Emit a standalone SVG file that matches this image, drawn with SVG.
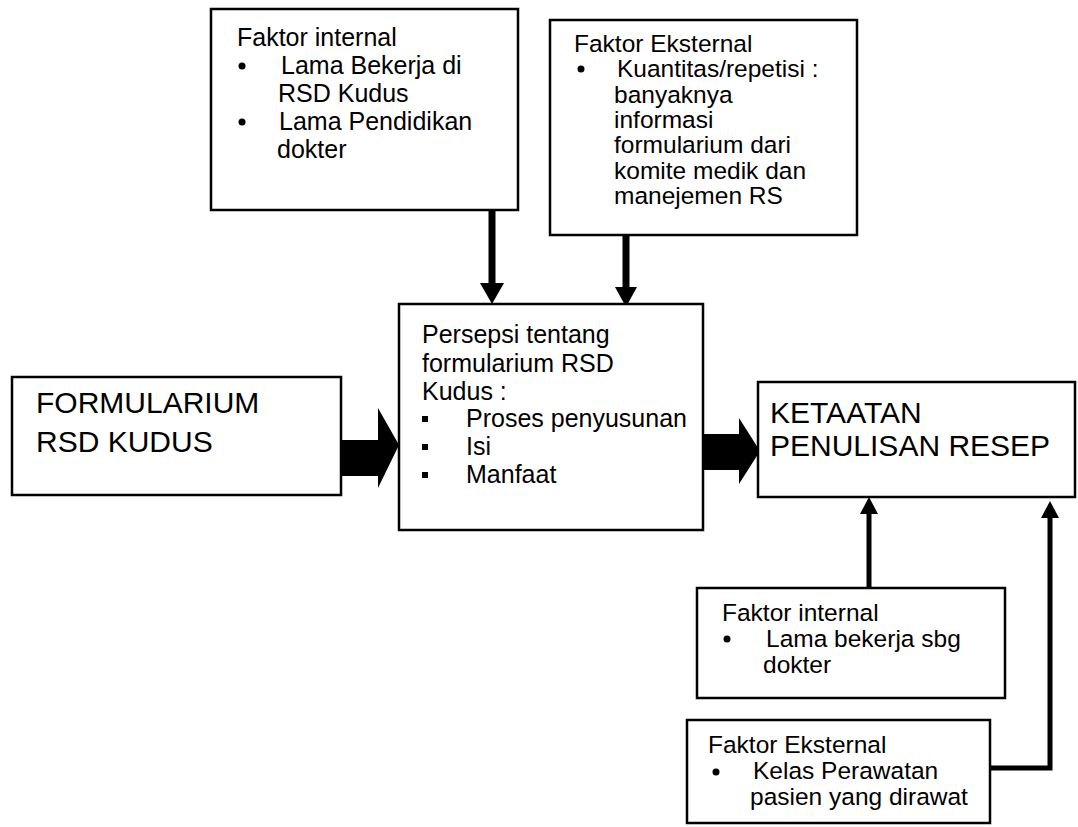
<svg xmlns="http://www.w3.org/2000/svg" width="1078" height="827" viewBox="0 0 1078 827">
<style>
.box{fill:#fff;stroke:#000;stroke-width:2.5}
.t{font-family:"Liberation Sans",Arial,sans-serif;font-size:25px;fill:#000}
.t2{font-family:"Liberation Sans",Arial,sans-serif;font-size:24.5px;fill:#000}
.big{font-family:"Liberation Sans",Arial,sans-serif;font-size:30px;fill:#000}
.ln{stroke:#000;fill:none}
.ah{fill:#000;stroke:none}
.bl{fill:#000}
</style>
<rect width="1078" height="827" fill="#fff"/>
<g id="connectors">
  <line class="ln" x1="492" y1="210" x2="492" y2="285" stroke-width="7"/>
  <polygon class="ah" points="480,283 504,283 492,304"/>
  <line class="ln" x1="626" y1="212" x2="626" y2="289" stroke-width="7"/>
  <polygon class="ah" points="615,287 637,287 626,307"/>
  <polygon class="ah" points="327,440 378,440 378,408 399,445 378,488 378,476 327,476"/>
  <polygon class="ah" points="703,434 739,434 739,418 760,451 739,484 739,470 703,470"/>
  <line class="ln" x1="869" y1="588" x2="869" y2="512" stroke-width="5"/>
  <polygon class="ah" points="860,514 878,514 869,497"/>
  <polyline class="ln" points="990,768 1050,768 1050,516" stroke-width="5"/>
  <polygon class="ah" points="1041,518 1059,518 1050,501"/>
</g>
<g id="faktor-internal-top">
  <rect class="box" x="211" y="9" width="307" height="201"/>
  <text class="t" x="237" y="46">Faktor internal</text>
  <circle class="bl" cx="242" cy="66" r="3.5"/>
  <text class="t" x="281" y="74">Lama Bekerja di</text>
  <text class="t" x="278" y="102">RSD Kudus</text>
  <circle class="bl" cx="242" cy="122" r="3.5"/>
  <text class="t" x="279" y="130">Lama Pendidikan</text>
  <text class="t" x="277" y="158">dokter</text>
</g>
<g id="faktor-eksternal-top">
  <rect class="box" x="550" y="20" width="307" height="215"/>
  <text class="t2" x="574" y="52">Faktor Eksternal</text>
  <circle class="bl" cx="581" cy="69" r="3.5"/>
  <text class="t2" x="617" y="77">Kuantitas/repetisi :</text>
  <text class="t2" x="614" y="103">banyaknya</text>
  <text class="t2" x="614" y="128">informasi</text>
  <text class="t2" x="614" y="153">formularium dari</text>
  <text class="t2" x="614" y="179">komite medik dan</text>
  <text class="t2" x="614" y="204">manejemen RS</text>
</g>
<g id="persepsi">
  <rect class="box" x="399" y="304" width="304" height="226"/>
  <text class="t" x="422" y="343">Persepsi tentang</text>
  <text class="t" x="422" y="372">formularium RSD</text>
  <text class="t" x="422" y="400">Kudus :</text>
  <rect class="bl" x="422" y="416" width="6" height="6"/>
  <text class="t" x="466" y="427">Proses penyusunan</text>
  <rect class="bl" x="422" y="444" width="6" height="6"/>
  <text class="t" x="466" y="455">Isi</text>
  <rect class="bl" x="422" y="472" width="6" height="6"/>
  <text class="t" x="466" y="483">Manfaat</text>
</g>
<g id="formularium">
  <rect class="box" x="12" y="377" width="329" height="118"/>
  <text class="big" x="36" y="413">FORMULARIUM</text>
  <text class="big" x="36" y="452">RSD KUDUS</text>
</g>
<g id="ketaatan">
  <rect class="box" x="758" y="382" width="317" height="115"/>
  <text class="big" x="770" y="423">KETAATAN</text>
  <text class="big" x="770" y="456">PENULISAN RESEP</text>
</g>
<g id="faktor-internal-bottom">
  <rect class="box" x="697" y="588" width="308" height="110"/>
  <text class="t2" x="722" y="621">Faktor internal</text>
  <circle class="bl" cx="727" cy="639" r="3.5"/>
  <text class="t2" x="766" y="647">Lama bekerja sbg</text>
  <text class="t2" x="763" y="673">dokter</text>
</g>
<g id="faktor-eksternal-bottom">
  <rect class="box" x="687" y="720" width="303" height="103"/>
  <text class="t2" x="708" y="753">Faktor Eksternal</text>
  <circle class="bl" cx="716" cy="772" r="3.5"/>
  <text class="t2" x="753" y="779">Kelas Perawatan</text>
  <text class="t2" x="750" y="805">pasien yang dirawat</text>
</g>
</svg>
